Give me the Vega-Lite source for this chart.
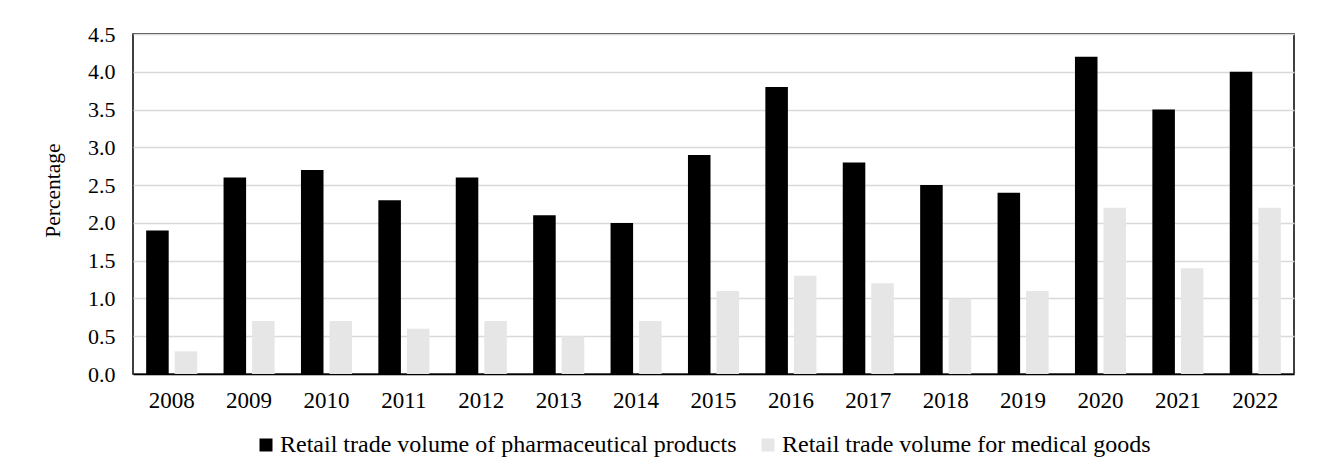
{
  "$schema": "https://vega.github.io/schema/vega-lite/v6.json",
  "width": 1161,
  "height": 340,
  "autosize": {"type": "none"},
  "padding": {"left": 133, "top": 34, "right": 26, "bottom": 91},
  "background": "white",
  "config": {
    "font": "Liberation Serif",
    "view": {"stroke": "black", "strokeWidth": 1.5},
    "axis": {"labelFont": "Liberation Serif", "titleFont": "Liberation Serif", "labelColor": "black", "titleColor": "black"},
    "legend": {"labelFont": "Liberation Serif"}
  },
  "data": {
    "values": [
      {"year": "2008", "series": "Retail trade volume of pharmaceutical products", "value": 1.9},
      {"year": "2009", "series": "Retail trade volume of pharmaceutical products", "value": 2.6},
      {"year": "2010", "series": "Retail trade volume of pharmaceutical products", "value": 2.7},
      {"year": "2011", "series": "Retail trade volume of pharmaceutical products", "value": 2.3},
      {"year": "2012", "series": "Retail trade volume of pharmaceutical products", "value": 2.6},
      {"year": "2013", "series": "Retail trade volume of pharmaceutical products", "value": 2.1},
      {"year": "2014", "series": "Retail trade volume of pharmaceutical products", "value": 2.0},
      {"year": "2015", "series": "Retail trade volume of pharmaceutical products", "value": 2.9},
      {"year": "2016", "series": "Retail trade volume of pharmaceutical products", "value": 3.8},
      {"year": "2017", "series": "Retail trade volume of pharmaceutical products", "value": 2.8},
      {"year": "2018", "series": "Retail trade volume of pharmaceutical products", "value": 2.5},
      {"year": "2019", "series": "Retail trade volume of pharmaceutical products", "value": 2.4},
      {"year": "2020", "series": "Retail trade volume of pharmaceutical products", "value": 4.2},
      {"year": "2021", "series": "Retail trade volume of pharmaceutical products", "value": 3.5},
      {"year": "2022", "series": "Retail trade volume of pharmaceutical products", "value": 4.0},
      {"year": "2008", "series": "Retail trade volume for medical goods", "value": 0.3},
      {"year": "2009", "series": "Retail trade volume for medical goods", "value": 0.7},
      {"year": "2010", "series": "Retail trade volume for medical goods", "value": 0.7},
      {"year": "2011", "series": "Retail trade volume for medical goods", "value": 0.6},
      {"year": "2012", "series": "Retail trade volume for medical goods", "value": 0.7},
      {"year": "2013", "series": "Retail trade volume for medical goods", "value": 0.5},
      {"year": "2014", "series": "Retail trade volume for medical goods", "value": 0.7},
      {"year": "2015", "series": "Retail trade volume for medical goods", "value": 1.1},
      {"year": "2016", "series": "Retail trade volume for medical goods", "value": 1.3},
      {"year": "2017", "series": "Retail trade volume for medical goods", "value": 1.2},
      {"year": "2018", "series": "Retail trade volume for medical goods", "value": 1.0},
      {"year": "2019", "series": "Retail trade volume for medical goods", "value": 1.1},
      {"year": "2020", "series": "Retail trade volume for medical goods", "value": 2.2},
      {"year": "2021", "series": "Retail trade volume for medical goods", "value": 1.4},
      {"year": "2022", "series": "Retail trade volume for medical goods", "value": 2.2}
    ]
  },
  "mark": {"type": "bar"},
  "encoding": {
    "x": {
      "field": "year", "type": "nominal",
      "scale": {"paddingInner": 0.34, "paddingOuter": 0.17},
      "axis": {"title": null, "labelAngle": 0, "labelFontSize": 23, "labelPadding": 15, "ticks": false, "domainColor": "black", "domainWidth": 1.5}
    },
    "xOffset": {
      "field": "series", "type": "nominal",
      "sort": ["Retail trade volume of pharmaceutical products", "Retail trade volume for medical goods"],
      "scale": {"paddingInner": 0.21, "paddingOuter": 0}
    },
    "y": {
      "field": "value", "type": "quantitative",
      "scale": {"domain": [0, 4.5], "nice": false},
      "axis": {
        "title": "Percentage", "titleFontSize": 21.5, "titleFontWeight": "normal",
        "titleX": -80, "titleY": 156, "titleBaseline": "middle", "titleAngle": -90,
        "values": [0, 0.5, 1, 1.5, 2, 2.5, 3, 3.5, 4, 4.5],
        "format": ".1f", "labelFontSize": 22, "labelPadding": 18, "ticks": false,
        "domain": false, "grid": true, "gridColor": "#d9d9d9", "gridWidth": 1.5
      }
    },
    "color": {
      "field": "series", "type": "nominal",
      "sort": ["Retail trade volume of pharmaceutical products", "Retail trade volume for medical goods"],
      "scale": {"range": ["#000000", "#e6e6e6"]},
      "legend": {
        "title": null, "orient": "none", "direction": "horizontal",
        "legendX": 121, "legendY": 399,
        "symbolType": "square", "symbolSize": 169, "symbolStrokeWidth": 0,
        "labelFontSize": 24, "labelColor": "black", "labelOffset": 2, "columnPadding": 19,
        "labelLimit": 700
      }
    }
  }
}
